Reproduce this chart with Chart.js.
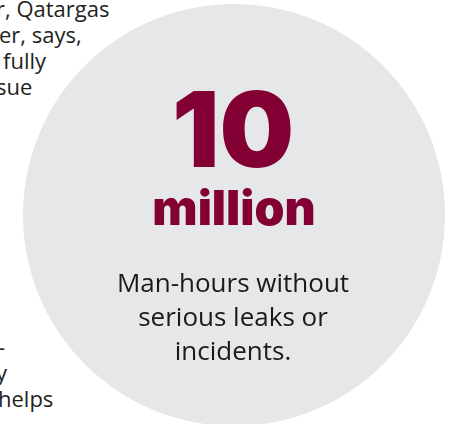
<!DOCTYPE html>
<html lang="en">
<head>
    <meta charset="UTF-8">
    <title>10 million man-hours</title>
    <script src="https://cdn.jsdelivr.net/npm/chart.js"></script>
    <style>
        body {
            margin: 0;
            width: 449px;
            height: 424px;
            overflow: hidden;
            background: #fff;
            position: relative;
            font-family: "Open Sans", Arial, sans-serif;
            color: #231f20;
        }
        .article span {
            position: absolute;
            left: 0;
            font-size: 22px;
            line-height: 26px;
            white-space: nowrap;
        }
        #badge {
            position: absolute;
            left: 0;
            top: 0;
        }
    </style>
</head>
<body>
    <!-- clipped column of the article behind the circle -->
    <div class="article">
        <span style="top:-5px;left:-4px">r, Qatargas</span>
        <span style="top:21px;left:-1px">er, says,</span>
        <span style="top:47px;left:3px">fully</span>
        <span style="top:73px;left:-4px">sue</span>
        <span style="top:333px;left:-2px">-</span>
        <span style="top:359px;left:-4px">y</span>
        <span style="top:385px;left:-2px">helps</span>
    </div>

    <canvas id="badge" width="460" height="440"></canvas>

    <script>
        const categories = ["Man-hours without serious leaks or incidents."];
        const values = [10];
        const unitLabel = "million";
        const captionLines = ["Man-hours without", "serious leaks or", "incidents."];

        const maroon = "#820034";

        // draws the figure and caption in the middle of the circle
        const centreText = {
            id: "centreText",
            afterDraw(chart) {
                const arc = chart.getDatasetMeta(0).data[0];
                const ctx = chart.ctx;
                const cx = arc.x, cy = arc.y;
                ctx.save();
                ctx.textAlign = "center";
                ctx.textBaseline = "alphabetic";
                ctx.fillStyle = maroon;
                ctx.font = "900 105px Inter, Lato, sans-serif";
                ctx.fillText(String(values[0]), cx - 1, cy - 48);
                ctx.font = "900 48px Inter, Lato, sans-serif";
                ctx.fillText(unitLabel, cx, cy + 10);
                ctx.fillStyle = "#1a1a1a";
                ctx.font = "400 26px 'Open Sans', sans-serif";
                captionLines.forEach((line, i) => {
                    ctx.fillText(line, cx - 1, cy + 77 + i * 34);
                });
                ctx.restore();
            }
        };

        new Chart(document.getElementById("badge").getContext("2d"), {
            type: "pie",
            data: {
                labels: categories,
                datasets: [{
                    data: values,
                    backgroundColor: "#e6e7e8",
                    borderWidth: 0
                }]
            },
            options: {
                responsive: false,
                animation: false,
                layout: { padding: { left: 23, top: 4, right: 15, bottom: 14 } },
                plugins: {
                    legend: { display: false },
                    tooltip: { enabled: false }
                }
            },
            plugins: [centreText]
        });
    </script>
</body>
</html>
